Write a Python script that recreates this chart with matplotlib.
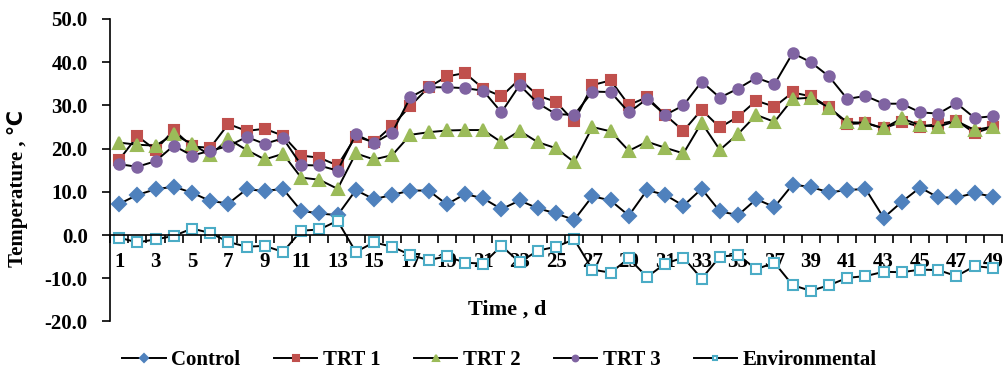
"""
Temperature over time: Control, TRT 1-3 and Environmental
"""
import matplotlib
matplotlib.use('Agg')

import matplotlib.pyplot as plt
from matplotlib.ticker import MultipleLocator, FixedLocator, FixedFormatter, FormatStrFormatter

days = list(range(1, 50))
odd_days = list(range(1, 50, 2))

control = [7.2, 9.3, 10.6, 11.2, 9.8, 7.9, 7.3, 10.6, 10.2, 10.7,
           5.6, 5.0, 4.6, 10.4, 8.3, 9.3, 10.3, 10.3, 7.1, 9.5,
           8.5, 6.0, 8.0, 6.2, 5.0, 3.5, 9.0, 8.0, 4.5, 10.4,
           9.3, 6.8, 10.7, 5.5, 4.6, 8.3, 6.5, 11.7, 11.1, 9.9,
           10.4, 10.7, 4.0, 7.7, 11.0, 8.7, 8.7, 9.7, 8.9]
trt1 = [17.4, 22.9, 19.7, 24.3, 20.5, 20.2, 25.7, 24.1, 24.6, 23.0,
        18.4, 17.9, 16.1, 22.8, 21.5, 25.3, 29.9, 34.2, 36.7, 37.5,
        33.9, 32.1, 36.1, 32.3, 30.8, 26.3, 34.7, 35.8, 30.1, 31.9,
        27.8, 24.1, 29.0, 24.9, 27.4, 31.1, 29.7, 33.0, 32.1, 29.6,
        25.7, 25.9, 24.7, 26.2, 25.1, 25.7, 26.5, 23.6, 25.0]
trt2 = [21.4, 20.9, 20.7, 23.3, 21.1, 18.5, 22.2, 19.7, 17.5, 18.8,
        13.3, 12.8, 10.7, 18.9, 17.5, 18.5, 23.2, 23.8, 24.2, 24.3,
        24.3, 21.5, 24.1, 21.5, 20.1, 16.9, 25.0, 24.0, 19.5, 21.6,
        20.2, 18.9, 26.0, 19.7, 23.4, 27.8, 26.2, 31.5, 31.8, 29.5,
        26.1, 26.0, 24.7, 27.0, 25.4, 25.1, 26.4, 24.3, 25.1]
trt3 = [16.4, 15.8, 17.1, 20.7, 18.4, 19.5, 20.6, 22.7, 21.1, 22.4,
        16.2, 16.1, 14.9, 23.3, 21.3, 23.7, 31.9, 34.2, 34.2, 34.0,
        33.4, 28.4, 34.7, 30.5, 28.0, 27.8, 33.2, 33.1, 28.4, 31.5,
        27.8, 30.0, 35.5, 31.8, 33.9, 36.4, 34.9, 42.1, 40.0, 36.7,
        31.5, 32.2, 30.4, 30.4, 28.4, 28.1, 30.5, 27.1, 27.5]
environmental = [-0.6, -1.7, -1.0, -0.2, 1.5, 0.5, -1.6, -2.7, -2.5, -3.9,
                 1.0, 1.3, 3.3, -3.9, -1.7, -2.7, -4.6, -5.8, -4.9, -6.4,
                 -6.6, -2.5, -6.3, -3.6, -2.7, -1.0, -8.0, -8.7, -5.4, -9.7,
                 -6.6, -5.2, -10.1, -5.0, -4.6, -7.9, -6.4, -11.6, -12.9, -11.6,
                 -9.9, -9.5, -8.5, -8.6, -8.0, -8.1, -9.5, -7.2, -7.6]

plt.rcParams['font.family'] = ['Liberation Serif', 'DejaVu Sans']
plt.rcParams['font.weight'] = 'bold'
plt.rcParams['axes.labelweight'] = 'bold'
plt.rcParams['font.size'] = 15

fig = plt.figure(figsize=(10.05, 3.74), dpi=100)
ax = fig.add_axes([0.1095, 0.1404, 0.8875, 0.8088])

# cac series: (data, ten, marker, mau vien, mau trong, size)
series = [
    (control, "Control", "D", "#4F81BD", "#4F81BD", 7.0),
    (trt1, "TRT 1", "s", "#C0504D", "#C0504D", 7.0),
    (trt2, "TRT 2", "^", "#9BBB59", "#9BBB59", 8.0),
    (trt3, "TRT 3", "o", "#8064A2", "#8064A2", 7.5),
    (environmental, "Environmental", "s", "#4BACC6", "white", 6.5),
]
for data, name, mk, edge, face, ms in series:
    ax.plot(days, data, color="black", linewidth=1.4, marker=mk,
            markersize=ms, markeredgecolor=edge, markerfacecolor=face,
            markeredgewidth=1.5, label=name)

ax.set_xlim(0.5, 49.5)
ax.set_ylim(-20, 50)

# truc x nam o y = 0
ax.spines['bottom'].set_position(('data', 0))
ax.spines['top'].set_visible(False)
ax.spines['right'].set_visible(False)
ax.spines['left'].set_linewidth(1.2)
ax.spines['bottom'].set_linewidth(1.2)

ax.yaxis.set_major_locator(MultipleLocator(10))
ax.yaxis.set_major_formatter(FormatStrFormatter('%.1f'))
ax.tick_params(axis='y', direction='out', length=6, width=1.2, pad=10)

ax.xaxis.set_major_locator(FixedLocator([d + 0.5 for d in range(0, 50)]))
ax.xaxis.set_minor_locator(FixedLocator(odd_days))
ax.xaxis.set_major_formatter(plt.NullFormatter())
ax.xaxis.set_minor_formatter(FixedFormatter([str(d) for d in odd_days]))
ax.tick_params(axis='x', which='major', direction='out', length=6, width=1.2)
ax.tick_params(axis='x', which='minor', length=0, pad=12)

ax.set_ylabel("Temperature , ℃", fontsize=15)
ax.yaxis.set_label_coords(-0.092, 0.441)
ax.set_xlabel("Time , d", fontsize=16)
ax.xaxis.label.set_verticalalignment('center')
ax.xaxis.set_label_coords(0.445, 0.038)

fig.legend(loc='center', bbox_to_anchor=(0.497, 0.037), ncol=5, frameon=False,
           handlelength=2.1, handletextpad=0.25, columnspacing=1.6,
           markerscale=0.55)

fig.savefig("out.png", dpi=100)
